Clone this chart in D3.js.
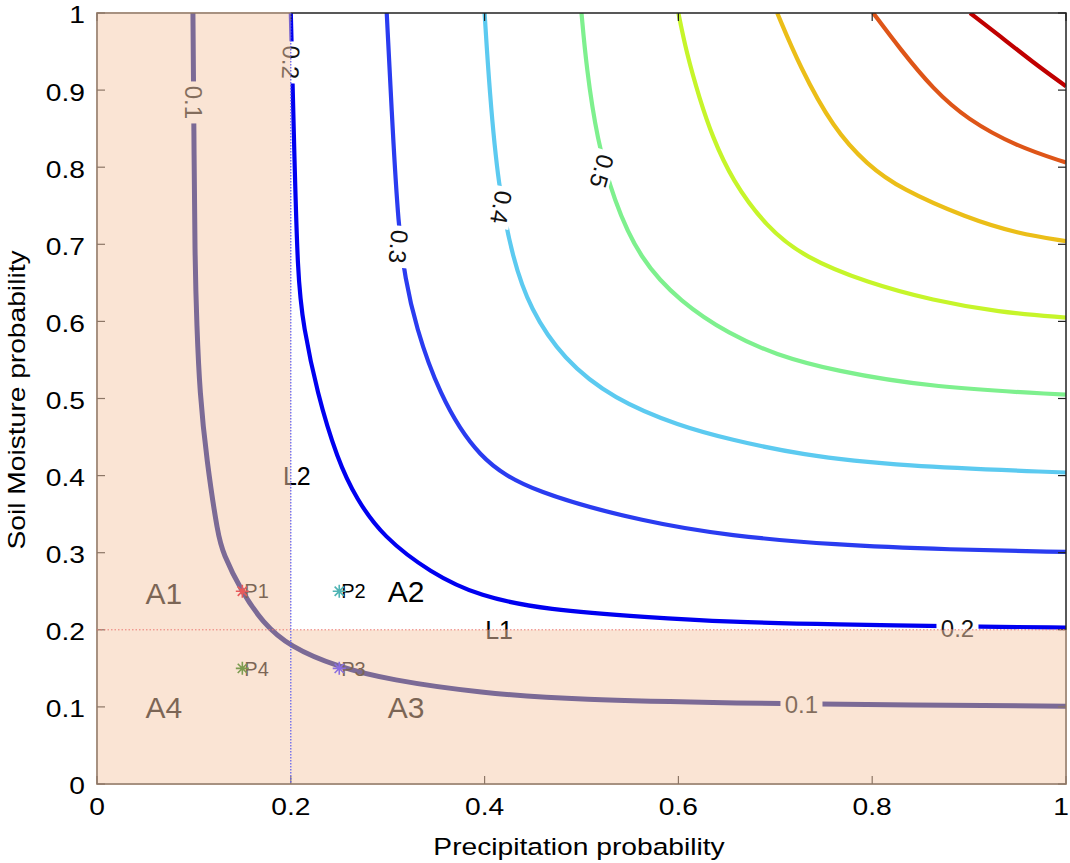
<!DOCTYPE html>
<html>
<head>
<meta charset="utf-8">
<script src="https://cdn.jsdelivr.net/npm/d3@7"></script>
<style>
  body { margin: 0; background: #fff; }
  text { font-family: "Liberation Sans", Arial, Helvetica, sans-serif; }
</style>
</head>
<body>
<svg id="chart" width="1070" height="863"></svg>
<script>
// ---- data -------------------------------------------------------------
// joint probability levels and the iso-lines traced for each level
const levels = [0.1, 0.2, 0.3, 0.4, 0.5, 0.6, 0.7, 0.8, 0.9];
const contour01 = [[0.099,1],[0.100,0.85],[0.101,0.681],[0.103,0.594],[0.106,0.508],[0.113,0.421],[0.125,0.321],[0.130,0.300],[0.148,0.252],[0.171,0.209],[0.199,0.178],[0.248,0.152],[0.302,0.135],[0.395,0.118],[0.498,0.109],[0.653,0.105],[0.85,0.102],[1,0.101]];
const contour02 = [[0.200,1],[0.203,0.85],[0.207,0.655],[0.213,0.594],[0.227,0.508],[0.248,0.421],[0.268,0.369],[0.295,0.321],[0.344,0.274],[0.395,0.243],[0.464,0.226],[0.568,0.216],[0.653,0.210],[0.760,0.207],[0.9,0.204],[1,0.203]];
const contour03 = [[0.299,1],[0.305,0.85],[0.311,0.723],[0.318,0.655],[0.329,0.594],[0.352,0.508],[0.393,0.421],[0.450,0.378],[0.568,0.339],[0.653,0.322],[0.760,0.310],[0.88,0.304],[1,0.301]];
const contour04 = [[0.400,1],[0.405,0.9],[0.414,0.775],[0.429,0.681],[0.447,0.616],[0.481,0.551],[0.533,0.499],[0.602,0.464],[0.653,0.447],[0.725,0.427],[0.829,0.412],[1,0.404]];
const contour05 = [[0.500,1],[0.505,0.93],[0.516,0.836],[0.533,0.758],[0.560,0.681],[0.602,0.625],[0.653,0.583],[0.700,0.557],[0.760,0.536],[0.863,0.514],[1,0.505]];
const contour06 = [[0.600,1],[0.608,0.95],[0.622,0.888],[0.635,0.840],[0.655,0.784],[0.691,0.722],[0.730,0.683],[0.795,0.650],[0.863,0.627],[0.93,0.612],[1,0.605]];
const contour07 = [[0.702,1],[0.725,0.931],[0.760,0.850],[0.795,0.803],[0.829,0.772],[0.898,0.734],[0.95,0.714],[1,0.704]];
const contour08 = [[0.801,1],[0.829,0.953],[0.863,0.901],[0.898,0.862],[0.949,0.827],[1,0.806]];
const contour09 = [[0.901,1],[0.932,0.970],[0.966,0.936],[1,0.905]];
const contours = [contour01, contour02, contour03, contour04, contour05, contour06, contour07, contour08, contour09];

// sample points
const pointNames = ["P1", "P2", "P3", "P4"];
const pointX = [0.15, 0.25, 0.25, 0.15];
const pointY = [0.25, 0.25, 0.15, 0.15];

// region names and where they are written
const regionNames = ["A1", "A2", "A3", "A4"];
const regionX = [0.05, 0.30, 0.30, 0.05];
const regionY = [0.247, 0.25, 0.10, 0.099];

// thresholds
const thresholdNames = ["L1", "L2"];
const thresholdX = 0.2;
const thresholdY = 0.2;

// axis ticks
const xTicks = [0, 0.2, 0.4, 0.6, 0.8, 1];
const xTickLabels = ["0", "0.2", "0.4", "0.6", "0.8", "1"];
const yTicks = [0, 0.1, 0.2, 0.3, 0.4, 0.5, 0.6, 0.7, 0.8, 0.9, 1];
const yTickLabels = ["0", "0.1", "0.2", "0.3", "0.4", "0.5", "0.6", "0.7", "0.8", "0.9", "1"];

// ---- styling ----------------------------------------------------------
const levelColors = ["#000a82", "#0000f0", "#2a3cf0", "#5ccaf0", "#7ef08e", "#c6f52a", "#ebbe18", "#de5518", "#c00000"];
const pointColors = ["#e85a5a", "#4fb4b4", "#8a6ee0", "#7c9c50"];
const shadeFill = "rgb(245,201,169)";
const shadeOpacity = 0.5;
const axisFont = 23.5;     // tick labels and titles
const axisStretch = 1.2;   // axis lettering is set wide

// inline contour labels: level index, position (data units), rotation
const contourLabels = [
  { i: 0, x: 0.099, y: 0.884, a: 90 },
  { i: 0, x: 0.727, y: 0.103, a: 0 },
  { i: 1, x: 0.200, y: 0.936, a: 92 },
  { i: 1, x: 0.888, y: 0.202, a: 0 },
  { i: 2, x: 0.311, y: 0.697, a: 95 },
  { i: 3, x: 0.417, y: 0.748, a: 100 },
  { i: 4, x: 0.521, y: 0.795, a: 106 }
];

// ---- layout -----------------------------------------------------------
const svg = d3.select("#chart");
const mLeft = 97, mRight = 1066, mTop = 13, mBottom = 784;
const x = d3.scaleLinear().domain([0, 1]).range([mLeft, mRight]);
const y = d3.scaleLinear().domain([0, 1]).range([mBottom, mTop]);

svg.append("defs").append("clipPath").attr("id", "plotClip")
  .append("rect").attr("x", mLeft).attr("y", mTop).attr("width", mRight - mLeft).attr("height", mBottom - mTop);

const plot = svg.append("g").attr("clip-path", "url(#plotClip)");

// iso-lines
const line = d3.line().x(d => x(d[0])).y(d => y(d[1])).curve(d3.curveBasis);
plot.selectAll("path.iso").data(contours).join("path")
  .attr("class", "iso")
  .attr("d", line)
  .attr("fill", "none")
  .attr("stroke", (d, i) => levelColors[i])
  .attr("stroke-width", (d, i) => i === 0 ? 5 : 4.2);

// inline level labels (the white box breaks the line)
const lab = plot.selectAll("g.clab").data(contourLabels).join("g")
  .attr("class", "clab")
  .attr("transform", d => `translate(${x(d.x)},${y(d.y)}) rotate(${d.a})`);
lab.append("rect").attr("x", -21).attr("y", -11).attr("width", 42).attr("height", 22).attr("fill", "#fff");
lab.append("text").attr("text-anchor", "middle").attr("dy", "0.35em")
  .attr("font-size", 24).attr("fill", "#111")
  .text(d => String(levels[d.i]));

// region labels
plot.selectAll("text.region").data(regionNames).join("text")
  .attr("class", "region")
  .attr("x", (d, i) => x(regionX[i])).attr("y", (d, i) => y(regionY[i]))
  .attr("dy", "0.36em").attr("font-size", 30).attr("fill", "#000")
  .text(d => d);

// point labels
plot.selectAll("text.pname").data(pointNames).join("text")
  .attr("class", "pname")
  .attr("x", (d, i) => x(pointX[i]) + 2).attr("y", (d, i) => y(pointY[i]))
  .attr("dy", "0.36em").attr("font-size", 20).attr("fill", "#000")
  .text(d => d);

// threshold labels
plot.append("text").attr("x", x(0.415)).attr("y", y(thresholdY)).attr("dy", "0.36em")
  .attr("text-anchor", "middle").attr("font-size", 25).attr("fill", "#000").text(thresholdNames[0]);
plot.append("text").attr("x", x(thresholdX) + 6).attr("y", y(0.4)).attr("dy", "0.36em")
  .attr("text-anchor", "middle").attr("font-size", 25).attr("fill", "#000").text(thresholdNames[1]);

// axes box with inward ticks on all four sides
const frame = svg.append("g");
frame.append("rect").attr("x", mLeft).attr("y", mTop).attr("width", mRight - mLeft).attr("height", mBottom - mTop)
  .attr("fill", "none").attr("stroke", "#222").attr("stroke-width", 1.5);
const tk = 8;
frame.selectAll("line.xb").data(xTicks).join("line")
  .attr("x1", d => x(d)).attr("x2", d => x(d)).attr("y1", mBottom).attr("y2", mBottom - tk)
  .attr("stroke", "#222").attr("stroke-width", 1.2);
frame.selectAll("line.xt").data(xTicks).join("line")
  .attr("x1", d => x(d)).attr("x2", d => x(d)).attr("y1", mTop).attr("y2", mTop + tk)
  .attr("stroke", "#222").attr("stroke-width", 1.2);
frame.selectAll("line.yl").data(yTicks).join("line")
  .attr("y1", d => y(d)).attr("y2", d => y(d)).attr("x1", mLeft).attr("x2", mLeft + tk)
  .attr("stroke", "#222").attr("stroke-width", 1.2);
frame.selectAll("line.yr").data(yTicks).join("line")
  .attr("y1", d => y(d)).attr("y2", d => y(d)).attr("x1", mRight).attr("x2", mRight - tk)
  .attr("stroke", "#222").attr("stroke-width", 1.2);

// shaded zone: precipitation or soil moisture below its threshold
const shade = d3.path();
shade.moveTo(mLeft - 1, mTop - 1);
shade.lineTo(x(thresholdX), mTop - 1);
shade.lineTo(x(thresholdX), y(thresholdY));
shade.lineTo(mRight + 1, y(thresholdY));
shade.lineTo(mRight + 1, mBottom + 1);
shade.lineTo(mLeft - 1, mBottom + 1);
shade.closePath();
svg.append("path").attr("d", shade.toString())
  .attr("fill", shadeFill).attr("fill-opacity", shadeOpacity);

// threshold lines L1 / L2
svg.append("line").attr("x1", mLeft).attr("x2", mRight).attr("y1", y(thresholdY)).attr("y2", y(thresholdY))
  .attr("stroke", "#ec7a72").attr("stroke-width", 1).attr("stroke-dasharray", "1.5,2");
svg.append("line").attr("x1", x(thresholdX)).attr("x2", x(thresholdX)).attr("y1", mTop).attr("y2", mBottom)
  .attr("stroke", "#5a5af0").attr("stroke-width", 1.2).attr("stroke-dasharray", "1.5,1.5");

// asterisk markers
const star = d3.symbol().type({
  draw(ctx, size) {
    const r = Math.sqrt(size) / 2, s = r * Math.SQRT1_2;
    ctx.moveTo(-r, 0); ctx.lineTo(r, 0);
    ctx.moveTo(0, -r); ctx.lineTo(0, r);
    ctx.moveTo(-s, -s); ctx.lineTo(s, s);
    ctx.moveTo(-s, s); ctx.lineTo(s, -s);
  }
}).size(170);
svg.selectAll("path.pt").data(pointNames).join("path")
  .attr("class", "pt")
  .attr("transform", (d, i) => `translate(${x(pointX[i])},${y(pointY[i])})`)
  .attr("d", star)
  .attr("fill", "none")
  .attr("stroke", (d, i) => pointColors[i])
  .attr("stroke-width", 1.6);

// tick labels (wide lettering via a horizontal scale)
svg.selectAll("text.xtl").data(xTicks).join("text")
  .attr("class", "xtl")
  .attr("transform", d => `translate(${Math.min(x(d), mRight - 5)},${mBottom + 31}) scale(${axisStretch},1)`)
  .attr("text-anchor", "middle")
  .attr("font-size", axisFont).attr("fill", "#000")
  .text((d, i) => xTickLabels[i]);
svg.selectAll("text.ytl").data(yTicks).join("text")
  .attr("class", "ytl")
  .attr("transform", d => `translate(${mLeft - 12},${y(d) + 2}) scale(${axisStretch},1)`)
  .attr("dy", "0.36em").attr("text-anchor", "end")
  .attr("font-size", axisFont).attr("fill", "#000")
  .text((d, i) => yTickLabels[i]);

// axis titles
svg.append("text")
  .attr("transform", `translate(579,855) scale(${axisStretch},1)`)
  .attr("text-anchor", "middle")
  .attr("font-size", axisFont).attr("fill", "#000").text("Precipitation probability");
svg.append("text")
  .attr("transform", `translate(25,400) rotate(-90) scale(${axisStretch},1)`)
  .attr("text-anchor", "middle")
  .attr("font-size", axisFont).attr("fill", "#000").text("Soil Moisture probability");
</script>
</body>
</html>
